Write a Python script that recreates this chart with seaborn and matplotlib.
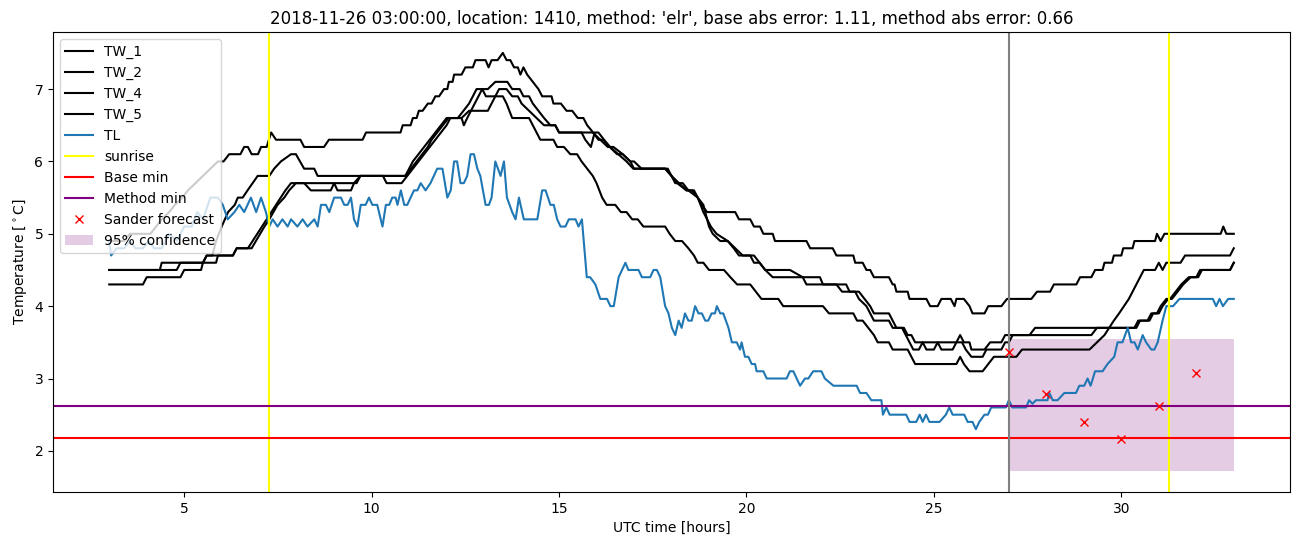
import matplotlib
matplotlib.use("Agg")
import matplotlib.pyplot as plt
import seaborn as sns
import numpy as np

# ---------------- data ----------------
tw1_t = [3.0,3.4,3.55,4.1,4.25,4.4,4.6,4.75,4.95,5.1,5.3,5.5,5.7,5.9,6.05,6.2,6.5,6.6,6.7,6.8,6.97,7.05,7.2,7.32,7.45,8.1,8.2,8.73,8.86,9.76,9.85,10.77,10.83,11.04,11.1,11.2,11.26,11.36,11.5,11.6,11.7,11.8,11.93,12.02,12.06,12.16,12.2,12.4,12.5,12.7,12.77,13.04,13.12,13.2,13.36,13.5,13.6,13.7,13.8,13.9,13.97,14.05,14.15,14.3,14.45,14.55,14.8,14.85,15.05,15.2,15.35,15.5,15.65,15.75,15.91,16.05,16.18,16.35,16.55,16.7,16.9,17.0,17.83,18.0,18.2,18.4,18.6,18.7,18.8,18.95,19.7,19.8,20.1,20.2,20.36,20.45,20.7,20.76,21.6,21.7,22.3,22.4,22.85,22.9,23.1,23.2,23.3,23.4,23.8,23.9,23.95,24.0,24.3,24.35,24.8,24.9,25.1,25.2,25.45,25.55,25.6,25.8,25.95,26.03,26.35,26.45,26.8,26.95,27.6,27.75,28.1,28.2,28.8,28.9,29.2,29.3,29.5,29.55,29.75,29.8,30.0,30.05,30.3,30.35,30.9,30.95,31.05,31.15,32.65,32.72,32.8,33.0]
tw1_v = [4.9,4.9,5.0,5.0,5.1,5.2,5.3,5.4,5.5,5.6,5.7,5.8,5.9,6.0,6.0,6.1,6.1,6.2,6.2,6.1,6.1,6.2,6.2,6.4,6.3,6.3,6.2,6.2,6.3,6.3,6.4,6.4,6.5,6.5,6.6,6.6,6.7,6.7,6.8,6.8,6.9,6.9,7.0,7.0,7.1,7.1,7.2,7.2,7.3,7.3,7.4,7.4,7.3,7.4,7.4,7.5,7.4,7.4,7.3,7.3,7.2,7.3,7.2,7.1,7.0,6.9,6.9,6.8,6.8,6.7,6.7,6.6,6.6,6.5,6.4,6.3,6.3,6.2,6.1,6.1,6.0,5.9,5.9,5.8,5.7,5.6,5.6,5.5,5.4,5.3,5.3,5.2,5.2,5.1,5.1,5.0,5.0,4.9,4.9,4.8,4.8,4.7,4.7,4.6,4.6,4.5,4.5,4.4,4.4,4.3,4.3,4.2,4.2,4.1,4.1,4.0,4.0,4.1,4.1,4.0,4.1,4.1,4.0,3.9,3.9,4.0,4.0,4.1,4.1,4.2,4.2,4.3,4.3,4.4,4.4,4.5,4.5,4.6,4.6,4.7,4.7,4.8,4.8,4.9,4.9,5.0,4.9,5.0,5.0,5.1,5.0,5.0]

tw2_t = [3.0,4.8,4.9,5.5,5.6,6.3,6.4,6.7,6.95,7.2,7.45,7.7,7.85,9.6,9.7,10.9,11.0,11.1,11.25,11.4,11.55,11.7,11.85,12.0,12.4,12.46,12.55,12.75,12.95,13.1,13.3,13.62,13.75,13.95,14.05,14.2,14.3,14.45,14.6,14.77,14.9,15.0,15.6,15.7,15.85,15.95,16.05,16.2,16.36,16.58,16.8,16.98,17.83,18.0,18.1,18.3,18.45,18.7,18.85,19.0,19.1,19.3,19.5,19.66,19.8,20.1,20.2,20.35,20.5,21.16,21.5,21.96,22.04,22.66,22.75,23.0,23.15,23.3,23.4,23.8,23.9,24.0,24.2,24.3,24.4,24.5,25.6,25.7,25.8,25.95,26.0,26.35,26.5,26.8,26.9,27.55,27.7,30.35,30.45,30.7,30.8,30.95,31.05,31.2,31.3,31.45,31.6,31.8,32.0,32.1,32.9,33.0]
tw2_v = [4.5,4.5,4.6,4.6,4.7,4.7,4.8,4.8,5.0,5.2,5.4,5.6,5.7,5.7,5.8,5.8,5.9,6.0,6.1,6.2,6.3,6.4,6.5,6.6,6.6,6.5,6.6,6.8,7.0,7.0,7.1,7.1,7.0,7.0,6.9,6.9,6.8,6.7,6.6,6.5,6.5,6.4,6.4,6.3,6.2,6.4,6.4,6.3,6.2,6.1,6.0,5.9,5.9,5.8,5.7,5.7,5.6,5.5,5.4,5.1,5.0,4.9,4.9,4.8,4.7,4.7,4.6,4.6,4.5,4.5,4.4,4.4,4.3,4.3,4.2,4.2,4.1,4.0,3.9,3.9,3.8,3.7,3.7,3.6,3.6,3.5,3.5,3.6,3.5,3.5,3.4,3.4,3.5,3.5,3.6,3.6,3.7,3.7,3.8,3.8,3.9,3.9,4.0,4.1,4.1,4.2,4.3,4.4,4.4,4.5,4.5,4.6]

tw4_t = [3.0,3.9,4.0,4.9,5.0,5.45,5.5,5.85,5.9,6.3,6.4,6.8,7.14,7.27,7.49,7.67,7.8,7.98,8.2,8.38,8.91,9.0,9.09,9.45,9.53,9.7,10.9,11.05,11.2,11.35,11.5,11.6,11.75,11.9,12.05,12.3,12.45,12.6,12.8,12.95,13.05,13.3,13.4,13.6,13.75,13.9,14.0,14.2,14.4,14.6,14.9,15.0,15.9,16.1,16.3,16.45,16.7,16.9,17.0,17.2,17.9,18.0,18.15,18.4,18.55,18.7,18.85,19.05,19.2,19.5,19.7,19.9,20.2,20.35,20.5,20.7,21.5,21.6,22.4,22.55,22.9,23.0,23.2,23.3,23.4,23.8,23.9,24.15,24.25,24.35,24.45,24.6,24.7,24.8,25.0,25.1,25.2,25.5,25.6,25.75,25.85,26.0,26.3,26.4,26.8,26.9,27.0,27.1,29.2,29.35,30.4,30.5,30.75,30.85,31.0,31.1,31.25,31.35,31.5,31.65,31.85,32.05,32.15,32.9,33.0]
tw4_v = [4.3,4.3,4.4,4.4,4.5,4.5,4.6,4.6,4.7,4.7,4.8,4.8,5.1,5.2,5.4,5.5,5.6,5.7,5.7,5.6,5.6,5.7,5.6,5.6,5.7,5.8,5.8,5.9,6.0,6.1,6.2,6.3,6.4,6.5,6.6,6.6,6.7,6.8,7.0,7.0,6.9,6.9,7.0,7.0,6.9,6.9,6.8,6.7,6.6,6.5,6.5,6.4,6.4,6.3,6.2,6.2,6.1,6.0,6.0,5.9,5.9,5.8,5.7,5.6,5.6,5.5,5.3,5.1,5.0,4.9,4.8,4.7,4.7,4.6,4.5,4.4,4.4,4.3,4.3,4.2,4.2,4.1,4.0,3.9,3.8,3.8,3.7,3.7,3.6,3.5,3.4,3.4,3.5,3.4,3.4,3.5,3.4,3.4,3.5,3.5,3.4,3.3,3.3,3.4,3.4,3.5,3.5,3.6,3.6,3.7,3.7,3.8,3.8,3.9,3.9,4.0,4.1,4.1,4.2,4.3,4.4,4.4,4.5,4.5,4.6]

tw5_t = [3.0,4.35,4.4,5.5,5.6,5.75,5.85,6.0,6.17,6.35,6.43,6.56,6.69,6.96,7.27,7.4,7.58,7.85,7.98,8.2,8.47,8.56,10.3,10.4,10.8,10.95,11.1,11.25,11.4,11.55,11.7,11.85,12.0,12.1,12.4,12.6,13.1,13.2,13.3,13.5,13.6,13.75,14.2,14.3,14.4,14.5,14.85,14.95,15.13,15.3,15.48,15.6,15.75,15.9,16.0,16.15,16.27,16.5,16.65,16.8,16.95,17.1,17.25,17.83,17.95,18.1,18.28,18.45,18.6,18.7,18.85,19.0,19.4,19.57,19.75,20.1,20.25,20.4,20.85,20.98,22.04,22.2,22.85,22.95,23.1,23.25,23.4,23.5,23.8,23.9,24.3,24.4,24.5,25.6,25.7,25.8,25.95,26.3,26.45,26.6,27.2,27.35,29.15,29.35,29.55,29.8,29.94,30.2,30.4,30.6,30.9,31.0,31.1,31.2,31.58,31.7,32.9,33.0]
tw5_v = [4.5,4.5,4.6,4.6,4.7,4.7,4.9,5.1,5.3,5.4,5.5,5.5,5.6,5.8,5.8,5.9,6.0,6.1,6.1,5.9,5.9,5.8,5.8,5.7,5.7,5.8,5.9,6.0,6.1,6.2,6.3,6.4,6.5,6.6,6.6,6.7,6.7,6.8,6.9,6.9,6.8,6.6,6.6,6.5,6.4,6.3,6.3,6.2,6.2,6.1,6.1,6.0,5.9,5.8,5.7,5.5,5.4,5.4,5.3,5.3,5.2,5.2,5.1,5.1,5.0,4.9,4.9,4.8,4.7,4.6,4.6,4.5,4.5,4.4,4.3,4.3,4.2,4.1,4.1,4.0,4.0,3.9,3.9,3.8,3.8,3.7,3.6,3.5,3.5,3.4,3.4,3.3,3.2,3.2,3.3,3.2,3.1,3.1,3.2,3.3,3.3,3.4,3.4,3.5,3.6,3.8,3.9,4.1,4.3,4.5,4.5,4.6,4.5,4.6,4.6,4.7,4.7,4.8]

tl_t = [3.0,3.05,3.2,3.4,3.55,3.7,3.9,4.05,4.2,4.4,4.6,4.8,5.0,5.2,5.35,5.5,5.7,5.9,6.03,6.16,6.34,6.47,6.6,6.78,6.92,7.05,7.18,7.27,7.36,7.49,7.62,7.76,7.85,8.02,8.16,8.29,8.47,8.56,8.65,8.78,8.87,9.0,9.18,9.27,9.36,9.45,9.53,9.62,9.71,9.84,9.93,10.02,10.15,10.29,10.38,10.47,10.55,10.64,10.69,10.78,10.87,10.95,11.13,11.22,11.31,11.44,11.57,11.75,11.89,12.02,12.11,12.2,12.28,12.37,12.46,12.55,12.64,12.73,12.82,12.9,13.04,13.13,13.2,13.3,13.44,13.53,13.61,13.75,13.84,13.93,14.06,14.42,14.55,14.64,14.77,14.86,14.95,15.04,15.17,15.26,15.44,15.52,15.61,15.74,15.83,15.97,16.1,16.28,16.37,16.46,16.59,16.77,16.85,17.12,17.21,17.43,17.52,17.61,17.7,17.83,17.92,18.01,18.1,18.19,18.27,18.36,18.45,18.54,18.63,18.72,18.81,18.9,18.98,19.07,19.16,19.21,19.3,19.38,19.52,19.61,19.74,19.83,19.87,19.96,20.05,20.14,20.23,20.27,20.45,20.54,21.07,21.16,21.25,21.34,21.43,21.56,21.65,21.78,22.0,22.09,22.32,22.94,23.03,23.2,23.33,23.6,23.64,23.73,23.82,24.26,24.35,24.53,24.62,24.7,24.79,24.88,25.15,25.32,25.41,25.5,25.81,25.9,26.03,26.12,26.21,26.35,26.44,26.53,26.92,27.0,27.09,27.46,27.54,27.63,27.72,28.03,28.08,28.17,28.3,28.48,28.79,28.88,29.01,29.1,29.18,29.3,29.5,29.63,29.81,29.9,30.03,30.17,30.26,30.35,30.44,30.57,30.66,30.8,30.88,30.97,31.1,31.2,31.38,31.55,32.44,32.53,32.62,32.71,32.85,33.0]
tl_v = [4.9,4.7,4.8,4.8,4.9,4.8,4.8,4.9,4.8,4.8,5.0,4.9,5.1,5.1,5.3,5.2,5.5,5.5,5.4,5.2,5.3,5.4,5.3,5.5,5.3,5.5,5.3,5.1,5.2,5.1,5.2,5.1,5.2,5.1,5.2,5.1,5.2,5.1,5.4,5.4,5.3,5.5,5.5,5.4,5.4,5.5,5.2,5.1,5.4,5.4,5.5,5.4,5.4,5.1,5.4,5.4,5.5,5.5,5.4,5.6,5.4,5.4,5.6,5.6,5.7,5.6,5.7,5.9,5.9,5.5,5.6,6.0,6.0,5.7,5.7,5.8,6.1,6.1,5.9,5.8,5.4,5.4,5.5,6.0,5.8,6.0,5.5,5.3,5.2,5.5,5.2,5.2,5.6,5.6,5.4,5.4,5.2,5.1,5.1,5.2,5.2,5.1,5.2,4.4,4.4,4.3,4.1,4.1,4.0,4.0,4.4,4.6,4.5,4.5,4.4,4.4,4.5,4.5,4.4,4.0,3.9,3.7,3.6,3.8,3.7,3.9,3.8,3.8,4.0,3.9,3.9,3.8,3.8,3.9,3.9,4.0,3.9,3.9,3.7,3.5,3.5,3.4,3.5,3.3,3.3,3.2,3.2,3.1,3.1,3.0,3.0,3.1,3.1,3.0,2.9,3.0,3.0,3.1,3.1,3.0,2.9,2.9,2.8,2.8,2.7,2.7,2.5,2.6,2.5,2.5,2.4,2.4,2.5,2.4,2.5,2.4,2.4,2.5,2.6,2.5,2.5,2.4,2.4,2.3,2.4,2.5,2.5,2.6,2.6,2.7,2.6,2.6,2.7,2.65,2.7,2.7,2.8,2.7,2.7,2.8,2.8,2.9,2.9,3.0,2.9,3.1,3.1,3.2,3.3,3.5,3.5,3.7,3.5,3.5,3.4,3.6,3.5,3.4,3.4,3.5,3.8,4.0,4.0,4.1,4.1,4.0,4.1,4.0,4.1,4.1]

sunrise_hours = [7.26, 31.27]
now_hour = 27.0
base_min = 2.18
method_min = 2.62
forecast_hours = [27, 28, 29, 30, 31, 32]
forecast_values = [3.37, 2.79, 2.40, 2.17, 2.62, 3.07]
conf_hours = [27.0, 33.0]
conf_low = 1.72
conf_high = 3.54

title = ("2018-11-26 03:00:00, location: 1410, method: 'elr', "
         "base abs error: 1.11, method abs error: 0.66")

# ---------------- plot ----------------
fig = plt.figure(figsize=(13.02, 5.47), dpi=100)
ax = fig.add_axes([0.0407, 0.1005, 0.9501, 0.841])

for name, t, v in [("TW_1", tw1_t, tw1_v), ("TW_2", tw2_t, tw2_v),
                   ("TW_4", tw4_t, tw4_v), ("TW_5", tw5_t, tw5_v)]:
    sns.lineplot(x=t, y=v, ax=ax, color="black", label=name,
                 estimator=None, sort=False)
sns.lineplot(x=tl_t, y=tl_v, ax=ax, color="C0", label="TL",
             estimator=None, sort=False)

ax.axvline(sunrise_hours[0], color="yellow", label="sunrise")
ax.axvline(sunrise_hours[1], color="yellow")
ax.axhline(base_min, color="red", label="Base min")
ax.axhline(method_min, color="purple", label="Method min")
ax.axvline(now_hour, color="grey")
ax.plot(forecast_hours, forecast_values, "rx", label="Sander forecast")
ax.fill_between(conf_hours, [conf_low, conf_low], [conf_high, conf_high],
                color="purple", alpha=0.2, linewidth=0,
                label="95% confidence", zorder=0.5)

ax.set_title(title)
ax.set_xlabel("UTC time [hours]")
ax.set_ylabel("Temperature [$^\\circ$C]")
ax.legend(loc="upper left")

fig.savefig("out.png", dpi=100)
